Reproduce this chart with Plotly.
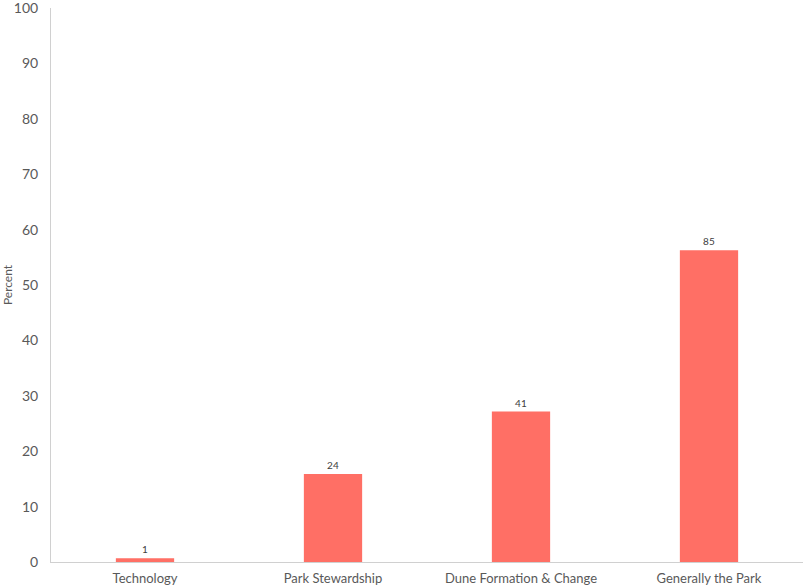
import plotly.graph_objects as go

categories = ["Technology", "Park Stewardship", "Dune Formation & Change", "Generally the Park"]
counts = [1, 24, 41, 85]
total = sum(counts)
percents = [c / total * 100 for c in counts]
y_ticks = [0, 10, 20, 30, 40, 50, 60, 70, 80, 90, 100]

fig = go.Figure(go.Bar(
    x=categories, y=percents,
    text=[str(c) for c in counts], textposition="outside",
    textfont=dict(family="Lato, sans-serif", size=10, color="#404040"),
    marker=dict(color="#FF6F65", line=dict(width=0)),
    width=0.31, cliponaxis=False, hoverinfo="skip",
))

fig.update_layout(
    width=803, height=588,
    margin=dict(l=51, r=0, t=8, b=26),
    paper_bgcolor="white", plot_bgcolor="white",
    showlegend=False,
    font=dict(family="Lato, sans-serif", color="#595959", size=13),
    xaxis=dict(showgrid=False, showline=True, linecolor="#D0D0D0", linewidth=1,
               ticks="", tickfont=dict(size=13), range=[-0.5, 3.5], automargin=False,
               ticklabelstandoff=4),
    yaxis=dict(range=[0, 100], tickvals=y_ticks, showgrid=False, zeroline=False,
               showline=True, linecolor="#D0D0D0", linewidth=1, ticks="",
               ticklabelstandoff=9, tickfont=dict(size=14), automargin=False,
               ticklabeloverflow="allow",
               title=dict(text="Percent", font=dict(size=12), standoff=12)),
)

fig.write_html("out.html", config={"displayModeBar": False},
               post_script="document.body.style.margin='0';")
